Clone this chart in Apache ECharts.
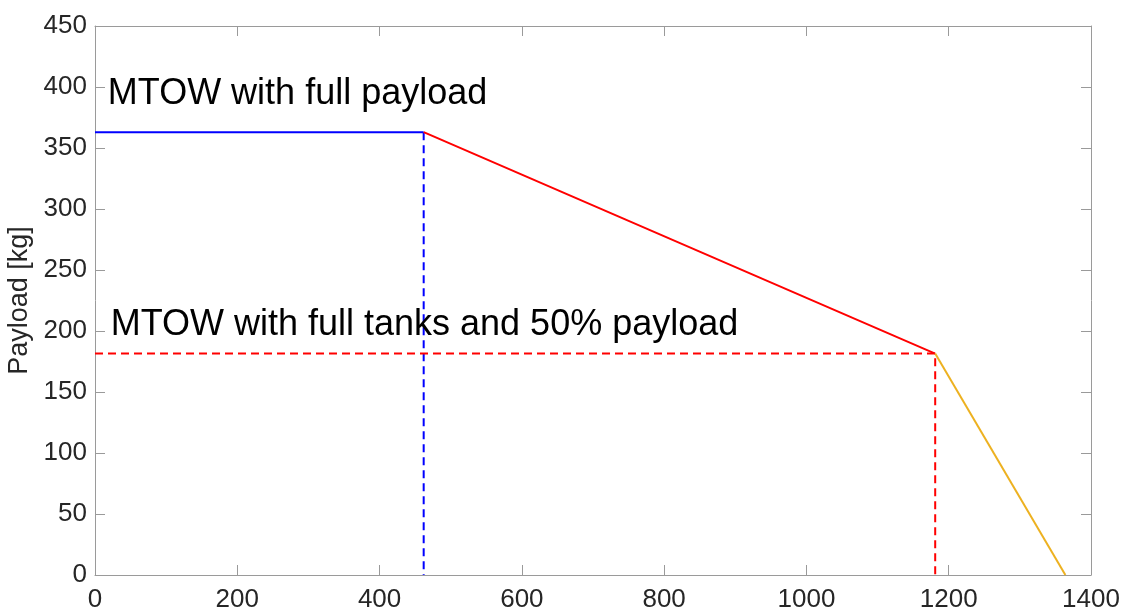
<!DOCTYPE html>
<html>
<head>
<meta charset="utf-8">
<script src="https://cdn.jsdelivr.net/npm/echarts@6/dist/echarts.min.js"></script>
<style>
  html, body { margin: 0; padding: 0; background: #fff; }
  #chart { width: 1124px; height: 610px; }
</style>
</head>
<body>
<div id="chart"></div>
<script>
// Payload-range envelope: breakpoints of range [km] and payload [kg]
const rangeKm = [0, 462, 1181, 1364];
const payloadKg = [363, 363, 181.5, 0];

// Axis extents and tick steps
const xMax = 1400, xStep = 200;
const yMax = 450, yStep = 50;

// Annotation texts with their anchor point in data units
const annotations = [
  { text: 'MTOW with full payload', at: [18, 394] },
  { text: 'MTOW with full tanks and 50% payload', at: [22, 205] }
];

const FONT = '"Liberation Sans", Arial, Helvetica, sans-serif';
const AXIS_GREY = '#9a9a9a';
const TEXT_DARK = '#262626';

const seg = (i, j) => [[rangeKm[i], payloadKg[i]], [rangeKm[j], payloadKg[j]]];

function lineSeries(data, color, dashed) {
  return {
    type: 'line',
    data: data,
    symbol: 'none',
    silent: true,
    animation: false,
    lineStyle: { color: color, width: 2, type: dashed ? [8, 5] : 'solid' },
    z: dashed ? 2 : 3
  };
}

const series = [
  // Max payload segment
  lineSeries(seg(0, 1), '#0000ff', false),
  // Payload traded for fuel
  lineSeries(seg(1, 2), '#ff0000', false),
  // Ferry segment, full tanks
  lineSeries(seg(2, 3), '#edb120', false),
  // Reference drop lines
  lineSeries([[rangeKm[1], payloadKg[1]], [rangeKm[1], 0]], '#0000ff', true),
  lineSeries([[0, payloadKg[2]], [rangeKm[2], payloadKg[2]], [rangeKm[2], 0]], '#ff0000', true)
];

const commonAxis = {
  axisLine: { show: true, onZero: false, lineStyle: { color: AXIS_GREY, width: 1 } },
  axisTick: { show: true, inside: true, length: 10, lineStyle: { color: AXIS_GREY, width: 1 } },
  splitLine: { show: false }
};

const plain = v => String(v);

const option = {
  backgroundColor: '#fff',
  animation: false,
  grid: { left: 95, right: 33, top: 26, bottom: 35, containLabel: false, outerBoundsMode: 'none' },
  xAxis: [
    Object.assign({}, commonAxis, {
      type: 'value', min: 0, max: xMax, interval: xStep, position: 'bottom',
      axisLabel: { color: TEXT_DARK, fontFamily: FONT, fontSize: 26, margin: 12, formatter: plain }
    }),
    Object.assign({}, commonAxis, {
      type: 'value', min: 0, max: xMax, interval: xStep, position: 'top',
      axisLabel: { show: false }
    })
  ],
  yAxis: [
    Object.assign({}, commonAxis, {
      type: 'value', min: 0, max: yMax, interval: yStep, position: 'left',
      name: 'Payload [kg]', nameLocation: 'middle', nameGap: 52, nameRotate: 90,
      nameTextStyle: { color: TEXT_DARK, fontFamily: FONT, fontSize: 27 },
      axisLabel: { color: TEXT_DARK, fontFamily: FONT, fontSize: 26, margin: 8, formatter: plain }
    }),
    Object.assign({}, commonAxis, {
      type: 'value', min: 0, max: yMax, interval: yStep, position: 'right',
      axisLabel: { show: false }
    })
  ],
  series: series
};

const chart = echarts.init(document.getElementById('chart'), null, { renderer: 'canvas' });
chart.setOption(option);

// Place the annotation texts at their data anchors
chart.setOption({
  graphic: annotations.map(a => {
    const p = chart.convertToPixel({ gridIndex: 0 }, a.at);
    return {
      type: 'text',
      x: p[0],
      y: p[1],
      silent: true,
      z: 10,
      style: {
        text: a.text,
        fill: '#000000',
        font: '36px ' + FONT,
        textAlign: 'left',
        textVerticalAlign: 'middle'
      }
    };
  })
});
</script>
</body>
</html>
